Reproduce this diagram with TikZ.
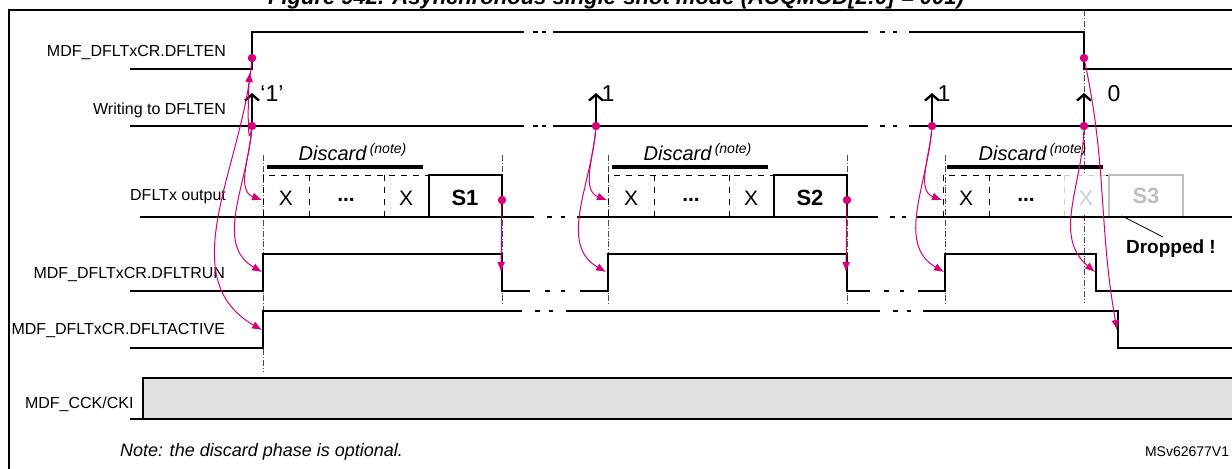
\documentclass[tikz,border=0pt]{standalone}
\usepackage{fontspec}
\setmainfont{Liberation Sans}
\usetikzlibrary{arrows.meta, positioning}

\definecolor{evtc}{RGB}{214,0,120}
\definecolor{cckfill}{RGB}{226,226,226}
\tikzset{
  sig/.style={line width=1.4pt},
  dd/.style={densely dashdotted, gray!60!black, line width=0.4pt},
  evt/.style={evtc, line width=0.5pt, -{Latex[length=5pt,width=4pt]}},
  edot/.style={circle, fill=evtc, inner sep=1.5pt},
  lab/.style={anchor=east, font=\fontsize{8}{10}\selectfont},
  wr/.style={line width=1.2pt, -{Straight Barb[length=3pt,width=7pt]}},
  cell/.style={font=\fontsize{10.5}{12}\selectfont},
  sbox/.style={font=\bfseries\fontsize{11}{13}\selectfont},
  disc/.style={font=\itshape\fontsize{10}{12}\selectfont},
  wlab/.style={font=\fontsize{11.5}{13}\selectfont}
}
% break mark on a signal line: gap with two short dashes
\newcommand{\brk}[3]{%
  \fill[white] (#1,#3-4) rectangle (#2,#3+4);
  \draw[sig] ({#1+0.3*(#2-#1)},#3) -- ++(5,0) ({#1+0.62*(#2-#1)},#3) -- ++(4,0);}
% one output group: X, ..., X cells and discard bar
\newcommand{\outgroup}[1]{%
  \draw[dashed, line width=0.5pt] (#1,217) -- (#1,175) -- (#1+166,175);
  \draw[dashed, line width=0.5pt] (#1+46,175) -- (#1+46,217) (#1+121,175) -- (#1+121,217);
  \node[cell] at (#1+23,198) {X};
  \node[cell] at (#1+83,200) {\textbf{...}};
  \node[cell] at (#1+143,198) {X};
  \fill[black] (#1+4,165) rectangle (#1+160,169);
  \node[disc] at (#1+90,152) {Discard\,\textsuperscript{\scriptsize(note)}};}

\begin{document}
\begin{tikzpicture}[x=0.5pt, y=-0.5pt]
  \clip (0,0) rectangle (1232,468);
  \fill[white] (0,0) rectangle (1232,468);
  \node[font=\bfseries\itshape\fontsize{11}{13}\selectfont] (title) at (616,-1) {Figure 942. Asynchronous single-shot mode (ACQMOD[2:0] = 001)};
  \draw[line width=0.8pt] (9,480) -- (9,10) -- (1240,10);

  % signal names
  \node[lab] (nEn)  at (233,52)  {MDF\_DFLTxCR.DFLTEN};
  \node[lab] (nWr)  at (233,110) {Writing to DFLTEN};
  \node[lab] (nOut) at (233,197) {DFLTx output};
  \node[lab] (nRun) at (232,274) {MDF\_DFLTxCR.DFLTRUN};
  \node[lab] (nAct) at (232,330) {MDF\_DFLTxCR.DFLTACTIVE};
  \node[lab, anchor=west] (nCck) at (18,404) {MDF\_CCK/CKI};

  % guide lines
  \draw[dd] (263,155) -- (263,372);
  \foreach \x in {502,608,847,945} \draw[dd] (\x,155) -- (\x,305);
  \draw[dd] (1084,10) -- (1084,302);

  % DFLTEN
  \draw[sig] (130,69) -- (252,69) -- (252,32) -- (1084,32) -- (1084,69) -- (1240,69);
  \brk{524}{553}{32} \brk{868}{909}{32}
  % writing
  \draw[sig] (130,126) -- (1240,126);
  \brk{524}{553}{126} \brk{868}{909}{126}
  \foreach \x in {252,596,932,1084} \draw[wr] (\x,126) -- (\x,93);
  \node[wlab] (w1) at (272,94) {`1'};
  \node[wlab] (w2) at (608,94) {1};
  \node[wlab] (w3) at (944,94) {1};
  \node[wlab] (w4) at (1114,94) {0};

  % DFLTx output
  \outgroup{263}
  \outgroup{608}
  \outgroup{943}
  \draw[sig] (429,217) -- (429,175) -- (502,175) -- (502,217);
  \node[sbox] (s1) at (465,198) {S1};
  \draw[sig] (774,217) -- (774,175) -- (847,175) -- (847,217);
  \node[sbox] (s2) at (810,198) {S2};
  \fill[white] (1061,173) rectangle (1106,215);
  \draw[dashed, gray!40, line width=0.5pt] (1064,175) -- (1109,175) (1064,175) -- (1064,217);
  \node[cell, gray!40] (x3) at (1086,198) {X};
  \draw[gray!50, line width=1.4pt] (1109,217) rectangle (1183,175);
  \node[sbox, gray!50] (s3) at (1146,196) {S3};
  \draw[sig] (140,217) -- (1240,217);
  \brk{534}{577}{217} \brk{878}{917}{217}
  \node[font=\bfseries\fontsize{9.5}{11}\selectfont, anchor=west] (drop) at (1119,249) {Dropped !};
  \draw[line width=0.4pt] (1122,216) -- (1163,237);

  % DFLTRUN
  \draw[sig] (130,291) -- (263,291) -- (263,254) -- (502,254) -- (502,291) -- (608,291) -- (608,254)
    -- (847,254) -- (847,291) -- (945,291) -- (945,254) -- (1096,254) -- (1096,291) -- (1240,291);
  \brk{530}{580}{291} \brk{870}{918}{291}
  % DFLTACTIVE
  \draw[sig] (130,348) -- (263,348) -- (263,311) -- (1118,311) -- (1118,348) -- (1240,348);
  \brk{522}{566}{311} \brk{880}{923}{311}
  % clock
  \draw[sig, fill=cckfill] (130,419) -- (143,419) -- (143,378) -- (1240,378) -- (1240,419) -- cycle;

  % event points
  \node[edot] (eEn1) at (252,58) {};
  \node[edot] (eWr1) at (252,126) {};
  \node[edot] (eWr2) at (596,126) {};
  \node[edot] (eWr3) at (932,126) {};
  \node[edot] (eWr4) at (1084,126) {};
  \node[edot] (eEn4) at (1084,58) {};
  \node[edot] (eS1) at (502,200) {};
  \node[edot] (eS2) at (847,200) {};
  \coordinate (tEn1) at (250,72);
  \coordinate (tX1) at (262,200);
  \coordinate (tX2) at (607,200);
  \coordinate (tX3) at (942,200);
  \coordinate (tR1) at (262,272);
  \coordinate (tF1) at (501,272);
  \coordinate (tR2) at (606,272);
  \coordinate (tF2) at (846,272);
  \coordinate (tR3) at (944,272);
  \coordinate (tF3) at (1095,272);
  \coordinate (tA1) at (262,330);
  \coordinate (tA4) at (1117,330);

  % causality arrows
  \draw[evt] (eWr1) to[out=-100, in=-95] (tEn1);
  \draw[evt] (eWr1) to[out=-95, in=160] (tX1);
  \draw[evt] (eWr1) to[out=-95, in=150] (tR1);
  \draw[evt] (eEn1) to[out=-95, in=150] (tA1);
  \draw[evt] (eWr2) to[out=-95, in=160] (tX2);
  \draw[evt] (eWr2) to[out=-95, in=150] (tR2);
  \draw[evt] (eWr3) to[out=-95, in=160] (tX3);
  \draw[evt] (eWr3) to[out=-95, in=150] (tR3);
  \draw[evt] (eS1) -- (tF1);
  \draw[evt] (eS2) -- (tF2);
  \draw[evt] (eWr4) to[out=-92, in=140] (tF3);
  \draw[evt] (eEn4) to[out=-78, in=100] (tA4);

  \node[font=\itshape\fontsize{9}{11}\selectfont, anchor=west] (note) at (113,452) {Note: the discard phase is optional.};
  \node[font=\fontsize{7}{9}\selectfont, anchor=west] (ref) at (1138,452) {MSv62677V1};
\end{tikzpicture}
\end{document}
